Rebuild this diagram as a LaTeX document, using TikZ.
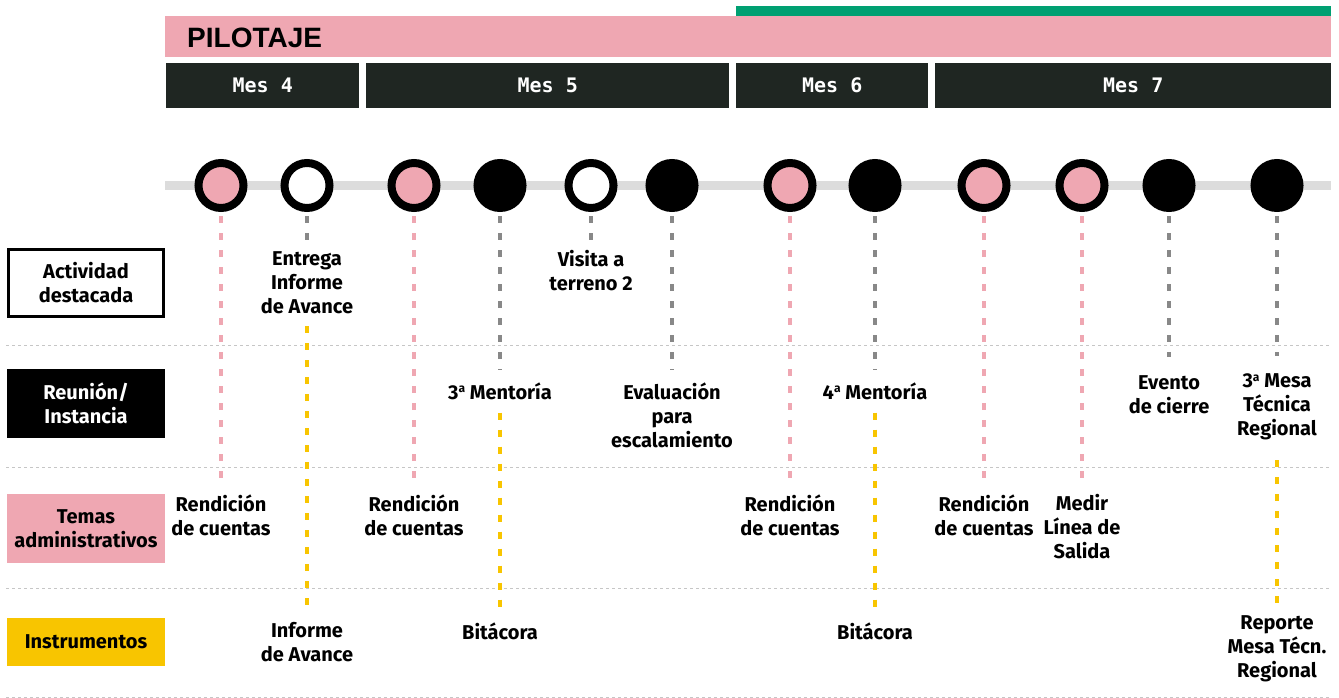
\documentclass[tikz,border=0pt]{standalone}
\usepackage{fontspec}
\setmainfont{Fira Sans}
\newfontfamily\headfont{Liberation Sans}
\newfontfamily\monthfont{DejaVu Sans Mono}
\definecolor{rosa}{HTML}{EFA7B2}
\definecolor{verde}{HTML}{00A072}
\definecolor{oscuro}{HTML}{1F2622}
\definecolor{amarillo}{HTML}{F8C500}
\definecolor{gris}{HTML}{888888}
\definecolor{riel}{HTML}{DCDCDC}
\colorlet{blanco}{white}
\colorlet{negro}{black}
\newcommand{\ordA}{\raisebox{0.62ex}{\fontsize{12}{12}\selectfont a}}

\begin{document}
\begin{tikzpicture}[x=1pt, y=-1pt,
  txt/.style={font=\bfseries\fontsize{20}{24}\selectfont, align=center, inner sep=0pt},
  mes/.style={fill=oscuro, text=white, font=\monthfont\bfseries\fontsize{20}{24}\selectfont,
    minimum height=45pt, inner sep=0pt, anchor=north west},
  hito/.style={circle, draw=black, line width=8pt, minimum size=45pt, inner sep=0pt},
  leyenda/.style={txt, minimum width=158pt, minimum height=69pt},
  rosadash/.style={rosa, line width=4pt, dash pattern=on 7pt off 10pt, shorten <=4pt},
  grisdash/.style={gris, line width=4pt, dash pattern=on 7pt off 10pt, shorten <=4pt},
  amadash/.style={amarillo, line width=4pt, dash pattern=on 7pt off 10pt}]
\useasboundingbox (0,0) rectangle (1339,698);

% Header bars
\fill[verde] (736,6) rectangle (1331,16);
\fill[rosa] (165,16) rectangle (1331,57);
\node[anchor=west, inner sep=0pt, font=\headfont\bfseries\fontsize{28}{28}\selectfont] (pilot) at (187,38) {PILOTAJE};
\node[mes, minimum width=193pt] (mes4) at (166,63) {Mes 4};
\node[mes, minimum width=363pt] (mes5) at (366,63) {Mes 5};
\node[mes, minimum width=192pt] (mes6) at (736,63) {Mes 6};
\node[mes, minimum width=396pt] (mes7) at (935,63) {Mes 7};

% Row separators
\foreach \y in {345,467,588,697}
  \draw[gray!45, line width=1pt, dash pattern=on 3pt off 3pt] (6,\y) -- (1331,\y);

% Legend
\node[leyenda, draw=black, line width=3pt, minimum width=155pt, minimum height=67pt] (act) at (86,283) {Actividad\\destacada};
\node[leyenda, fill=black, text=white] (reu) at (86,403.5) {Reunión/\\Instancia};
\node[leyenda, fill=rosa] (temas) at (86,528.5) {Temas\\administrativos};
\node[leyenda, fill=amarillo, minimum height=48pt] (instr) at (86,642) {Instrumentos};

% Timeline and milestones
\draw[riel, line width=9pt] (165,185.5) -- (1331,185.5);
\foreach \x/\tipo [count=\i] in {221/rosa,307/blanco,414/rosa,500/negro,591/blanco,672/negro,
    790/rosa,875/negro,984/rosa,1082/rosa,1169/negro,1277/negro}
  \node[hito, fill=\tipo] (h\i) at (\x,185.5) {};

% Labels
\node[txt] (rend1) at (221,515) {Rendición\\de cuentas};
\node[txt] (entrega) at (307,283) {Entrega\\Informe\\de Avance};
\node[txt] (informe) at (307,642) {Informe\\de Avance};
\node[txt] (rend2) at (414,515) {Rendición\\de cuentas};
\node[txt] (ment3) at (500,391) {3\ordA{} Mentoría};
\node[txt] (bita3) at (500,631) {Bitácora};
\node[txt] (visita) at (591,271) {Visita a\\terreno 2};
\node[txt] (evalua) at (672,415) {Evaluación\\para\\escalamiento};
\node[txt] (rend3) at (790,515) {Rendición\\de cuentas};
\node[txt] (ment4) at (875,391) {4\ordA{} Mentoría};
\node[txt] (bita4) at (875,631) {Bitácora};
\node[txt] (rend4) at (984,515) {Rendición\\de cuentas};
\node[txt] (medir) at (1082,527) {Medir\\Línea de\\Salida};
\node[txt] (evento) at (1169,394.5) {Evento\\de cierre};
\node[txt] (mesa) at (1277,407) {3\ordA{} Mesa\\Técnica\\Regional};
\node[txt] (reporte) at (1277,649) {Reporte\\Mesa Técn.\\Regional};

% Connectors
\foreach \i/\n in {1/rend1,3/rend2,7/rend3,9/rend4,10/medir}
  \draw[rosadash, shorten >=10pt] (h\i) -- (\n.north);
\foreach \i/\n in {2/entrega,5/visita}
  \draw[grisdash, shorten >=4pt] (h\i) -- (\n.north);
\foreach \i/\n in {4/ment3,6/evalua,8/ment4}
  \draw[grisdash, shorten >=13pt] (h\i) -- (\n.north);
\foreach \i/\n in {11/evento,12/mesa}
  \draw[grisdash, shorten >=18pt] (h\i) -- (\n.north);
\draw[amadash, shorten <=12pt, shorten >=7pt] (entrega) -- (informe);
\draw[amadash, shorten <=13pt, shorten >=12pt] (ment3) -- (bita3);
\draw[amadash, shorten <=13pt, shorten >=12pt] (ment4) -- (bita4);
\draw[amadash, shorten <=20pt, shorten >=10pt] (mesa) -- (reporte);
\end{tikzpicture}
\end{document}
